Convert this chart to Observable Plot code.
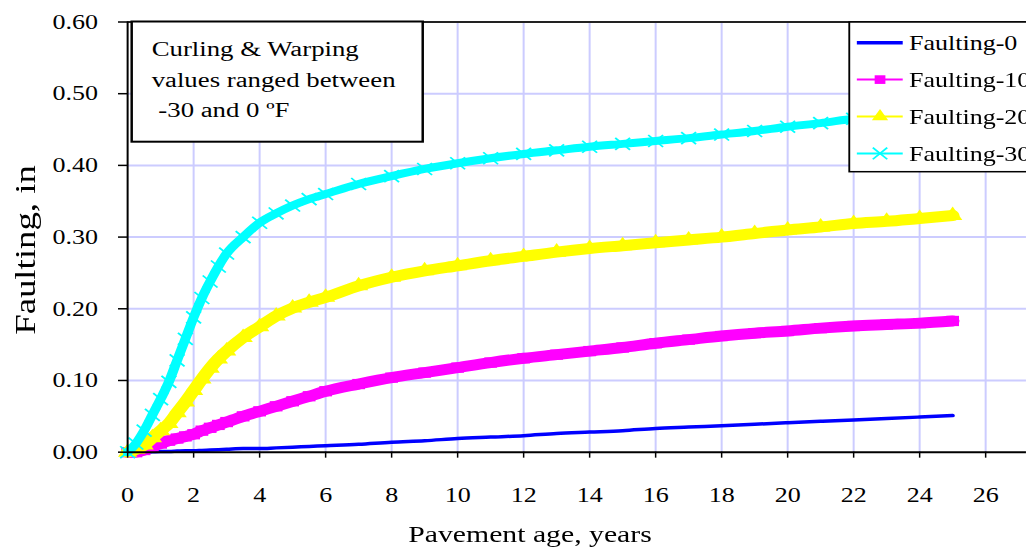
<!DOCTYPE html>
<html><head><meta charset="utf-8">
<script src="https://cdn.jsdelivr.net/npm/d3@7"></script>
<script src="https://cdn.jsdelivr.net/npm/@observablehq/plot@0.6"></script>
<style>
html,body{margin:0;padding:0;background:#fff;overflow:hidden;}
#wrap{position:relative;width:827.4px;height:548px;transform:scaleX(1.24);transform-origin:0 0;}
#wrap svg{position:absolute;left:0;top:0;}
</style></head><body><div id="wrap"></div>
<script>
// ---- data ----
const ages = [0, 0.25, 0.5, 0.75, 1, 1.25, 1.5, 1.75, 2, 2.25, 2.5, 2.75, 3, 3.5, 4, 4.5, 5, 5.5, 6, 7, 8, 9, 10, 11, 12, 13, 14, 15, 16, 17, 18, 19, 20, 21, 22, 23, 24, 25];
const faulting0  = [0, 0, 0, 0.0005, 0.001, 0.001, 0.0015, 0.002, 0.002, 0.0025, 0.003, 0.0035, 0.004, 0.005, 0.005, 0.006, 0.007, 0.008, 0.009, 0.011, 0.014, 0.016, 0.019, 0.021, 0.023, 0.026, 0.028, 0.030, 0.033, 0.035, 0.037, 0.039, 0.041, 0.043, 0.045, 0.047, 0.049, 0.051];
const faulting10 = [0, 0, 0.003, 0.008, 0.012, 0.016, 0.019, 0.022, 0.025, 0.030, 0.034, 0.038, 0.042, 0.050, 0.057, 0.064, 0.071, 0.078, 0.085, 0.095, 0.104, 0.111, 0.118, 0.125, 0.131, 0.136, 0.141, 0.146, 0.152, 0.157, 0.162, 0.166, 0.169, 0.173, 0.176, 0.178, 0.180, 0.183];
const faulting20 = [0, 0.004, 0.010, 0.020, 0.030, 0.040, 0.055, 0.070, 0.086, 0.102, 0.117, 0.130, 0.141, 0.160, 0.175, 0.190, 0.201, 0.209, 0.216, 0.232, 0.244, 0.253, 0.260, 0.267, 0.273, 0.279, 0.284, 0.288, 0.292, 0.296, 0.300, 0.305, 0.310, 0.314, 0.319, 0.322, 0.326, 0.330];
const faulting30 = [0, 0.012, 0.030, 0.052, 0.074, 0.098, 0.128, 0.158, 0.188, 0.215, 0.238, 0.259, 0.277, 0.300, 0.320, 0.333, 0.344, 0.353, 0.360, 0.374, 0.385, 0.395, 0.403, 0.410, 0.416, 0.421, 0.426, 0.430, 0.434, 0.438, 0.443, 0.448, 0.454, 0.459, 0.465, 0.469, 0.474, 0.478];
const seriesNames = ["Faulting-0", "Faulting-10", "Faulting-20", "Faulting-30"];
const xTicks = [0, 2, 4, 6, 8, 10, 12, 14, 16, 18, 20, 22, 24, 26];
const yTicks = [0, 0.1, 0.2, 0.3, 0.4, 0.5, 0.6];
const noteLines = ["Curling & Warping", "values ranged between", " -30 and 0 ºF"];
const xLabel = "Pavement age, years";
const yLabel = "Faulting, in";

// ---- styles ----
const S = 1.24;            // horizontal stretch of the original picture
const W = 1026 / S;
const FONT = "'Liberation Serif', 'Times New Roman', serif";
const colorOf = {"Faulting-0": "#0000ff", "Faulting-10": "#ff00ff", "Faulting-20": "#ffff00", "Faulting-30": "#00ffff"};
const widthOf = {"Faulting-0": 3.5, "Faulting-10": 11, "Faulting-20": 11, "Faulting-30": 8};
const symbolOf = {"Faulting-10": "square", "Faulting-20": "triangle", "Faulting-30": "times"};

const valuesList = [faulting0, faulting10, faulting20, faulting30];
const rows = seriesNames.flatMap((name, i) => ages.map((a, j) => ({series: name, age: a, value: valuesList[i][j]})));

const marks = [
  Plot.gridX(xTicks.filter(d => d > 0), {stroke: "#ccccff", strokeOpacity: 1, strokeWidth: 2 / S}),
  Plot.gridY(yTicks.filter(d => d > 0 && d < 0.6), {stroke: "#ccccff", strokeOpacity: 1, strokeWidth: 2}),
  Plot.ruleY([0.6], {stroke: "#222", strokeWidth: 2})
];
for (const name of seriesNames) {
  const d = rows.filter(r => r.series === name);
  marks.push(Plot.line(d, {x: "age", y: "value", stroke: colorOf[name], strokeWidth: widthOf[name], curve: "monotone-x"}));
  if (symbolOf[name] === "times") {
    marks.push(Plot.dot(d, {x: "age", y: "value", symbol: "times", r: 5.5, stroke: colorOf[name], strokeWidth: 1.6}));
  } else if (symbolOf[name]) {
    marks.push(Plot.dot(d, {x: "age", y: "value", symbol: symbolOf[name], r: 5.8, fill: colorOf[name], stroke: "none"}));
  }
}
marks.push(
  Plot.ruleX([0], {stroke: "black", strokeWidth: 2 / S}),
  Plot.ruleY([0], {stroke: "black", strokeWidth: 2}),
  Plot.axisY({ticks: yTicks, tickFormat: d3.format(".2f"), tickSize: 9 / S, tickPadding: 20.5 / S, label: null, fontSize: 21, strokeWidth: 1.5}),
  Plot.axisX({ticks: xTicks, tickFormat: d => String(d), tickSize: 6, tickPadding: 29, label: null, fontSize: 21, strokeWidth: 1.5 / S}),
  Plot.text([xLabel], {text: d => d, frameAnchor: "bottom", dx: -38, dy: 82, lineAnchor: "middle", fontSize: 24})
);

const chart = Plot.plot({
  width: W, height: 548,
  marginLeft: 127 / S, marginRight: 0, marginTop: 21.5, marginBottom: 96.3,
  x: {domain: [0, 27.24]},
  y: {domain: [0, 0.6]},
  style: {fontFamily: FONT, fontSize: "21px", color: "black", background: "white", overflow: "visible"},
  marks
});
document.getElementById("wrap").appendChild(chart);

// ---- annotation layer: y title, note box and legend ----
const ov = d3.select("#wrap").append("svg")
  .attr("width", W + 40).attr("height", 548)
  .style("overflow", "visible").attr("font-family", FONT);

ov.append("text")
  .attr("transform", "translate(20.5,250) rotate(-90) scale(1.6,1)")
  .attr("text-anchor", "middle").attr("dy", "0.35em")
  .attr("font-size", 23).attr("fill", "black").text(yLabel);

const note = ov.append("g");
note.append("rect").attr("x", 106.2).attr("y", 21.5).attr("width", 234.7).attr("height", 120.2)
  .attr("fill", "white").attr("stroke", "black").attr("stroke-width", 2);
noteLines.forEach((t, i) => {
  note.append("text").attr("x", 122.3).attr("y", 56.5 + i * 30.2)
    .attr("font-size", 21.6).attr("fill", "black").attr("xml:space", "preserve")
    .style("white-space", "pre").text(t);
});

const leg = ov.append("g");
leg.append("rect").attr("x", 684.9).attr("y", 22).attr("width", 200).attr("height", 149.7)
  .attr("fill", "white").attr("stroke", "black").attr("stroke-width", 1.5);
const d3sym = {square: d3.symbolSquare, triangle: d3.symbolTriangle, times: d3.symbolTimes};
seriesNames.forEach((name, i) => {
  const y = 42.7 + i * 36.9;
  leg.append("line").attr("x1", 691).attr("x2", 728).attr("y1", y).attr("y2", y)
    .attr("stroke", colorOf[name]).attr("stroke-width", name === "Faulting-0" ? 3.5 : 2);
  const sym = symbolOf[name];
  if (sym) {
    const p = leg.append("path").attr("transform", `translate(709.7,${y})`)
      .attr("d", d3.symbol(d3sym[sym], sym === "times" ? 90 : 75)());
    if (sym === "times") p.attr("fill", "none").attr("stroke", colorOf[name]).attr("stroke-width", 1.6);
    else p.attr("fill", colorOf[name]);
  }
  leg.append("text").attr("x", 733).attr("y", y).attr("dy", "0.35em")
    .attr("font-size", 21).attr("fill", "black").text(name);
});
</script>
</body></html>
